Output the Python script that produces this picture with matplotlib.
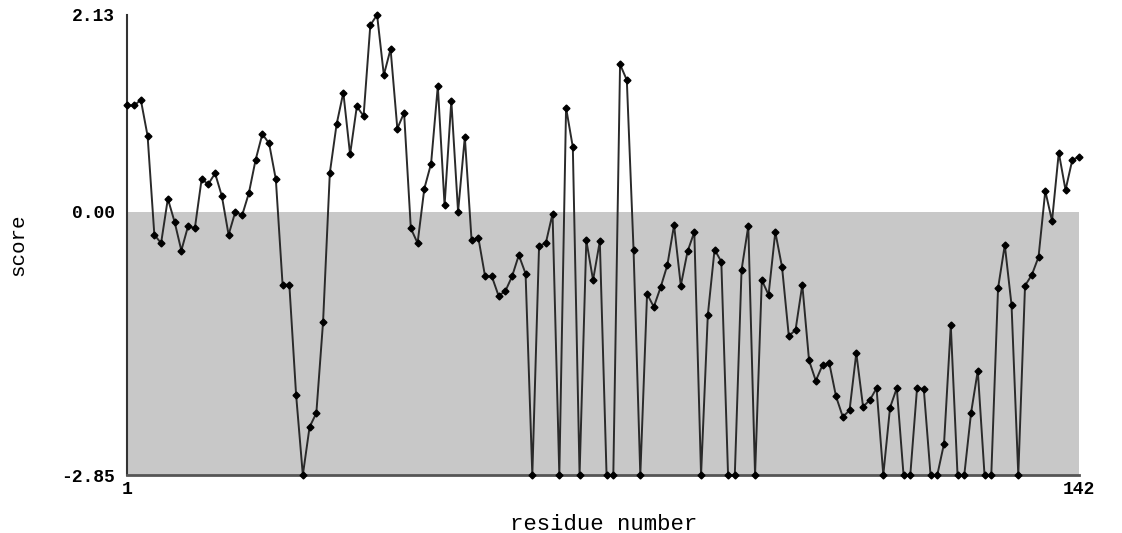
import numpy as np
from matplotlib import pyplot as plt
from matplotlib.patches import Rectangle

# Данные: номер остатка и оценка
residues = np.arange(1, 143)
scores = [
    1.15, 1.15, 1.21, 0.82, -0.25, -0.34, 0.14, -0.11, -0.42, -0.155,
    -0.18, 0.35, 0.30, 0.415, 0.17, -0.25, 0.00, -0.04, 0.20, 0.56,
    0.84, 0.74, 0.35, -0.79, -0.79, -1.98, -2.85, -2.33, -2.18, -1.19,
    0.42, 0.945, 1.29, 0.62, 1.14, 1.035, 2.02, 2.13, 1.48, 1.76,
    0.90, 1.07, -0.18, -0.34, 0.25, 0.52, 1.36, 0.07, 1.20, 0.00,
    0.81, -0.31, -0.28, -0.70, -0.70, -0.91, -0.86, -0.70, -0.47, -0.67,
    -2.85, -0.37, -0.34, -0.02, -2.85, 1.125, 0.70, -2.85, -0.31, -0.74,
    -0.32, -2.85, -2.85, 1.595, 1.425, -0.415, -2.85, -0.89, -1.03, -0.82,
    -0.58, -0.145, -0.80, -0.43, -0.22, -2.85, -1.12, -0.41, -0.54, -2.85,
    -2.85, -0.63, -0.155, -2.85, -0.74, -0.90, -0.22, -0.60, -1.345, -1.28,
    -0.79, -1.61, -1.83, -1.66, -1.64, -2.00, -2.22, -2.15, -1.53, -2.11,
    -2.04, -1.91, -2.85, -2.12, -1.91, -2.85, -2.85, -1.91, -1.92, -2.85,
    -2.85, -2.51, -1.23, -2.85, -2.85, -2.18, -1.72, -2.85, -2.85, -0.83,
    -0.36, -1.01, -2.85, -0.80, -0.685, -0.49, 0.225, -0.10, 0.64, 0.235,
    0.56, 0.595,
]
y_ticks = [-2.85, 0.00, 2.13]
x_ticks = [1, 142]

fig = plt.figure(figsize=(11.22, 5.33), dpi=100)
ax = fig.add_axes([0.1135, 0.1088, 0.8482, 0.8632])

ymin, ymax = y_ticks[0], y_ticks[-1]
xmin, xmax = x_ticks[0], x_ticks[-1]

# Серая область ниже нуля
ax.add_patch(Rectangle((xmin, ymin), xmax - xmin, 0 - ymin,
                       facecolor='#c8c8c8', edgecolor='none', zorder=0))

ax.plot(residues, scores, color='#2a2a2a', linewidth=1.4,
        marker='D', markersize=3.5, markerfacecolor='black',
        markeredgecolor='black', zorder=3, clip_on=False)

ax.set_xlim(xmin, xmax)
ax.set_ylim(ymin, ymax)

for side in ['top', 'right']:
    ax.spines[side].set_visible(False)
ax.spines['left'].set_color('#333333')
ax.spines['left'].set_linewidth(1.5)
ax.spines['bottom'].set_color('#555555')
ax.spines['bottom'].set_linewidth(2)

mono = 'Liberation Mono'
ax.set_yticks(y_ticks)
ax.set_yticklabels([f'{v:.2f}' for v in y_ticks], fontfamily=mono,
                   fontweight='bold', fontsize=13)
ax.set_xticks(x_ticks)
ax.set_xticklabels([str(v) for v in x_ticks], fontfamily=mono,
                   fontweight='bold', fontsize=13)
ax.tick_params(axis='both', length=0)
ax.tick_params(axis='y', pad=9)
ax.tick_params(axis='x', pad=4)

ax.set_xlabel('residue number', fontfamily=mono, fontsize=16, labelpad=12)
ax.set_ylabel('score', fontfamily=mono, fontsize=15, labelpad=24)

fig.savefig('out.png', dpi=100)
